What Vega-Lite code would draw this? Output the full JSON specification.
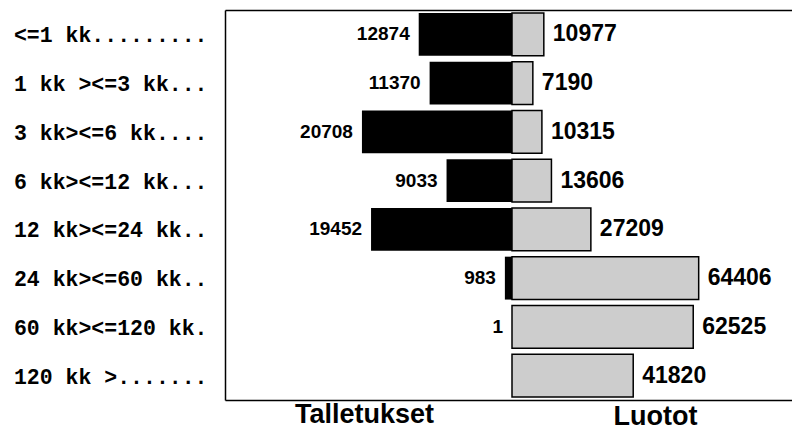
{
  "$schema": "https://vega.github.io/schema/vega-lite/v6.json",
  "width": 567,
  "height": 390,
  "autosize": "none",
  "padding": {"left": 225, "top": 10, "right": 0, "bottom": 30},
  "background": "white",
  "config": {
    "view": {"stroke": null},
    "axis": {"domainColor": "black", "domainWidth": 1.5, "ticks": false, "grid": false}
  },
  "data": {
    "values": [
      {"label": "<=1 kk.........", "talletukset": 12874, "luotot": 10977},
      {"label": "1 kk ><=3 kk...", "talletukset": 11370, "luotot": 7190},
      {"label": "3 kk><=6 kk....", "talletukset": 20708, "luotot": 10315},
      {"label": "6 kk><=12 kk...", "talletukset": 9033, "luotot": 13606},
      {"label": "12 kk><=24 kk..", "talletukset": 19452, "luotot": 27209},
      {"label": "24 kk><=60 kk..", "talletukset": 983, "luotot": 64406},
      {"label": "60 kk><=120 kk.", "talletukset": 1, "luotot": 62525},
      {"label": "120 kk >.......", "talletukset": null, "luotot": 41820}
    ]
  },
  "encoding": {
    "y": {
      "field": "label",
      "type": "nominal",
      "sort": null,
      "scale": {"paddingInner": 0, "paddingOuter": 0},
      "axis": {
        "title": null,
        "domain": true,
        "ticks": false,
        "labelFont": "Liberation Mono",
        "labelFontWeight": "bold",
        "labelFontSize": 21.5,
        "labelColor": "black",
        "labelPadding": 18,
        "labelOffset": 2,
        "labelLimit": 0,
        "labelBaseline": "middle"
      }
    }
  },
  "layer": [
    {
      "layer": [
        {
          "mark": {"type": "bar", "color": "black", "height": {"band": 0.88}},
          "encoding": {
            "x": {
              "field": "talletukset",
              "type": "quantitative",
              "scale": {"domain": [-38640, 39606], "reverse": true, "nice": false, "zero": false},
              "axis": {
                "orient": "bottom",
                "labels": false,
                "ticks": false,
                "domain": true,
                "title": "Talletukset",
                "titleFont": "Liberation Sans",
                "titleFontWeight": "bold",
                "titleFontSize": 27,
                "titleColor": "black",
                "titleX": 139,
                "titleY": 22,
                "titleAlign": "center",
                "titleBaseline": "alphabetic",
                "titleAngle": 0
              }
            }
          }
        },
        {
          "mark": {"type": "text", "align": "right", "baseline": "middle", "dx": -9, "font": "Liberation Sans", "fontWeight": "bold", "fontSize": 19, "color": "black"},
          "encoding": {
            "x": {"field": "talletukset", "type": "quantitative"},
            "text": {"field": "talletukset", "type": "quantitative", "format": "d"}
          }
        },
        {
          "mark": {"type": "rule", "color": "black", "strokeWidth": 1.5},
          "encoding": {"x": {"datum": 0, "type": "quantitative"}}
        }
      ]
    },
    {
      "layer": [
        {
          "mark": {"type": "bar", "fill": "#cdcdcd", "stroke": "black", "strokeWidth": 1.5, "height": {"band": 0.88}},
          "encoding": {
            "x": {
              "field": "luotot",
              "type": "quantitative",
              "scale": {"domain": [-99015, 96600], "nice": false, "zero": false},
              "axis": {
                "orient": "top",
                "labels": false,
                "ticks": false,
                "domain": true,
                "title": "Luotot",
                "titleFont": "Liberation Sans",
                "titleFontWeight": "bold",
                "titleFontSize": 27,
                "titleColor": "black",
                "titleX": 430,
                "titleY": 414,
                "titleAlign": "center",
                "titleBaseline": "alphabetic",
                "titleAngle": 0
              }
            }
          }
        },
        {
          "mark": {"type": "text", "align": "left", "baseline": "middle", "dx": 9, "font": "Liberation Sans", "fontWeight": "bold", "fontSize": 23, "color": "black"},
          "encoding": {
            "x": {"field": "luotot", "type": "quantitative"},
            "text": {"field": "luotot", "type": "quantitative", "format": "d"}
          }
        }
      ]
    }
  ],
  "resolve": {"scale": {"x": "independent"}, "axis": {"x": "independent"}}
}
